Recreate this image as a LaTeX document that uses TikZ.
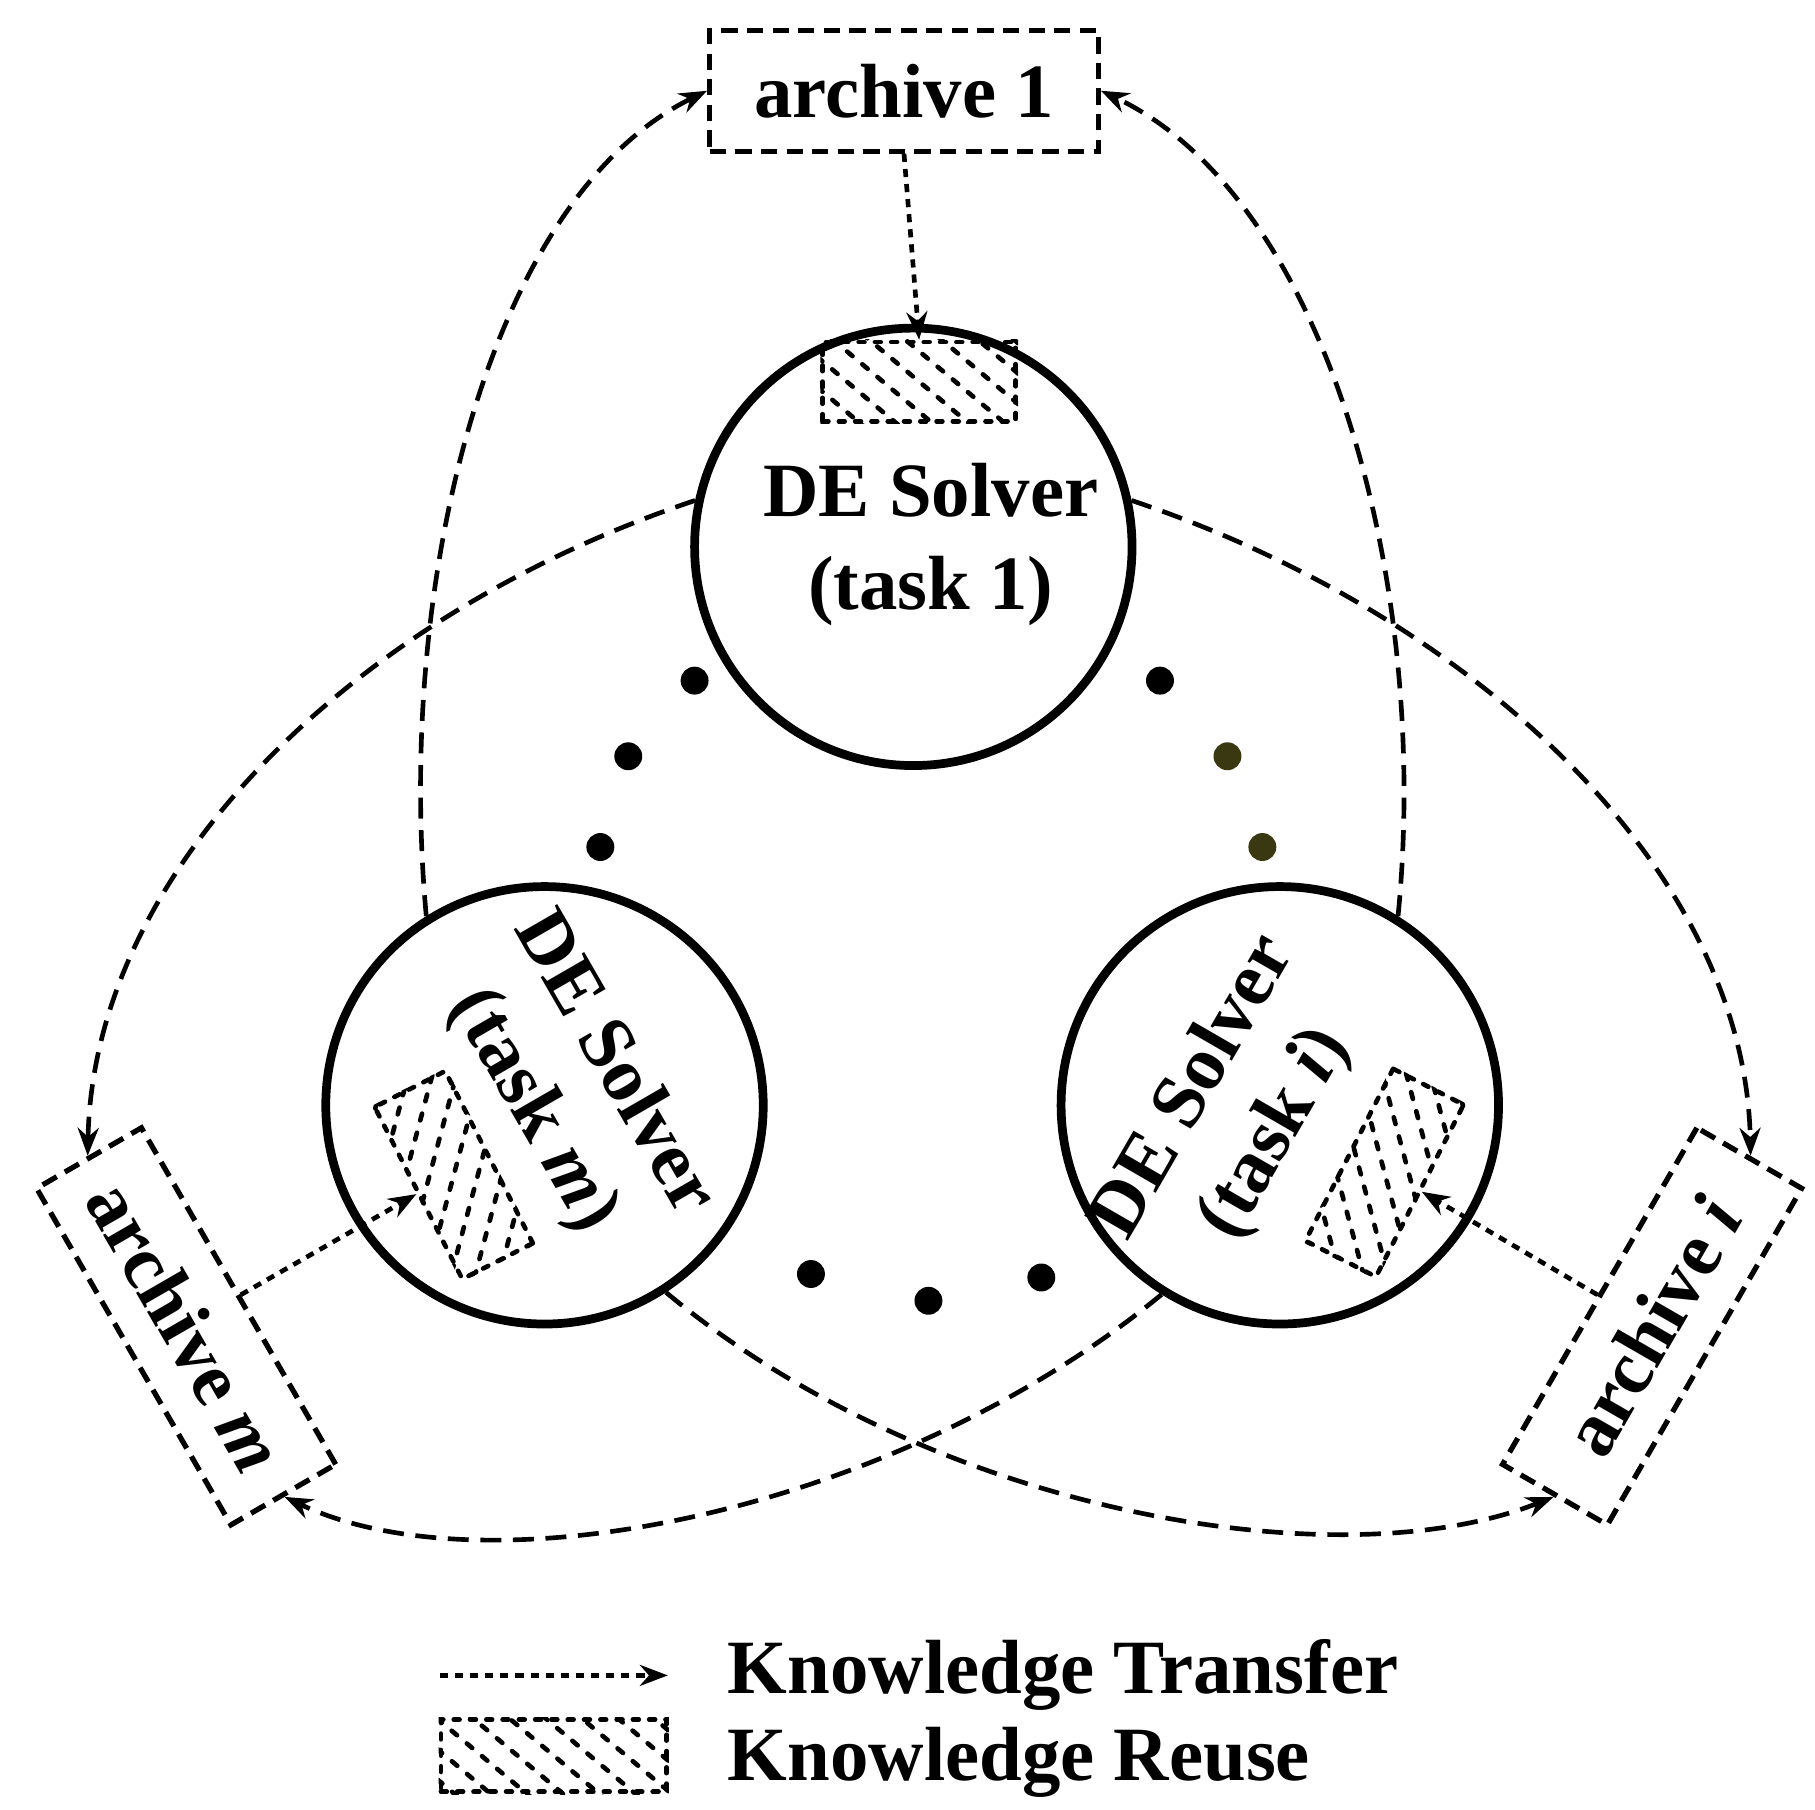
\documentclass[tikz,border=0pt]{standalone}
\usepackage{fontspec}
\setmainfont{Liberation Serif}
\usetikzlibrary{arrows.meta}
\tikzset{
 big/.style={font=\bfseries\fontsize{66}{80}\selectfont},
 solver/.style={circle,draw,line width=7.5pt,minimum size=376pt,inner sep=0pt},
 dsh/.style={line width=4pt,dash pattern=on 18pt off 10pt,-{Stealth[length=24pt,width=18pt]}},
 dtt/.style={line width=4pt,dash pattern=on 7pt off 6pt,-{Stealth[length=24pt,width=18pt]}},
 arch/.style={draw,line width=4.5pt,dash pattern=on 14pt off 8pt,minimum width=334pt,minimum height=104pt,inner sep=0pt,big},
 hatch/.style={draw,line width=4pt,line cap=round,dash pattern=on 5pt off 9pt,minimum width=166pt,minimum height=68pt,inner sep=0pt},
 hl/.style={line width=4pt,line cap=round,dash pattern=on 6pt off 11pt},
 dot/.style={circle,fill,minimum size=24pt,inner sep=0pt}
}
\newcommand{\hatchfill}[2]{%
 \begin{scope}
 \clip (#1.north west)--(#1.north east)--(#1.south east)--(#1.south west)--cycle;
 \foreach \o in {-180,-160,...,180}{
   \draw[hl] ($(#1.center)+(#2+90:\o)+(#2:-200)$) -- ($(#1.center)+(#2+90:\o)+(#2:200)$);
 }
 \end{scope}}
\usetikzlibrary{calc}
\begin{document}
\begin{tikzpicture}[x=1pt,y=1pt]
\useasboundingbox (0,0) rectangle (1560,-1555);
\node[solver] (c1) at (785,-470) {};
\node[solver] (c2) at (468,-950) {};
\node[solver] (c3) at (1100,-950) {};
\node[arch] (a1) at (777,-78) {archive 1};
\node[arch,rotate=-60] (am) at (160,-1140) {archive \textit{m}};
\node[arch,rotate=60] (ai) at (1420,-1140) {archive \textit{i}};
\node[hatch] (h1) at (790,-328) {};
\node[hatch,rotate=-63] (h2) at (390,-1010) {};
\node[hatch,rotate=63] (h3) at (1190,-1008) {};
\hatchfill{h1}{-40}
\hatchfill{h2}{75}
\hatchfill{h3}{105}
\node[big,align=center] (t1) at (800,-468) {DE Solver\\(task 1)};
\node[big,align=center,rotate=-60] (t2) at (492,-935) {DE Solver\\(task \textit{m})};
\node[big,align=center,rotate=60] (t3) at (1062,-955) {DE Solver\\(task \textit{i})};
\draw[dsh] (c2.122) .. controls (340,-500) and (420,-170) .. (a1.west);
\draw[dsh] (c3.58) .. controls (1230,-500) and (1140,-170) .. (a1.east);
\draw[dsh] (c1.168) .. controls (300,-530) and (80,-750) .. (am.west);
\draw[dsh] (c1.12) .. controls (1270,-530) and (1500,-750) .. (ai.east);
\draw[dsh] (c2.-57) .. controls (800,-1300) and (1150,-1360) .. (ai.west);
\draw[dsh] (c3.-122) .. controls (770,-1300) and (420,-1370) .. (am.east);
\draw[dtt] (a1.south) -- (h1.north);
\draw[dtt] (am.north) -- (h2.south);
\draw[dtt] (ai.north) -- (h3.south);
\node[dot] (d1) at (597,-585) {};
\node[dot] (d2) at (540,-650) {};
\node[dot] (d3) at (516,-728) {};
\node[dot] (d4) at (997,-585) {};
\node[dot,fill={rgb,255:red,58;green,56;blue,16}] (d5) at (1055,-650) {};
\node[dot,fill={rgb,255:red,58;green,56;blue,16}] (d6) at (1085,-728) {};
\node[dot] (d7) at (697,-1095) {};
\node[dot] (d8) at (798,-1118) {};
\node[dot] (d9) at (895,-1098) {};
\coordinate (l1) at (378,-1440);
\coordinate (l2) at (574,-1440);
\draw[dtt] (l1) -- (l2);
\node[hatch,minimum width=194pt,minimum height=62pt] (lh) at (476,-1509) {};
\hatchfill{lh}{-40}
\node[big,anchor=west] (k1) at (622,-1440) {Knowledge Transfer};
\node[big,anchor=west] (k2) at (622,-1515) {Knowledge Reuse};
\end{tikzpicture}
\end{document}
